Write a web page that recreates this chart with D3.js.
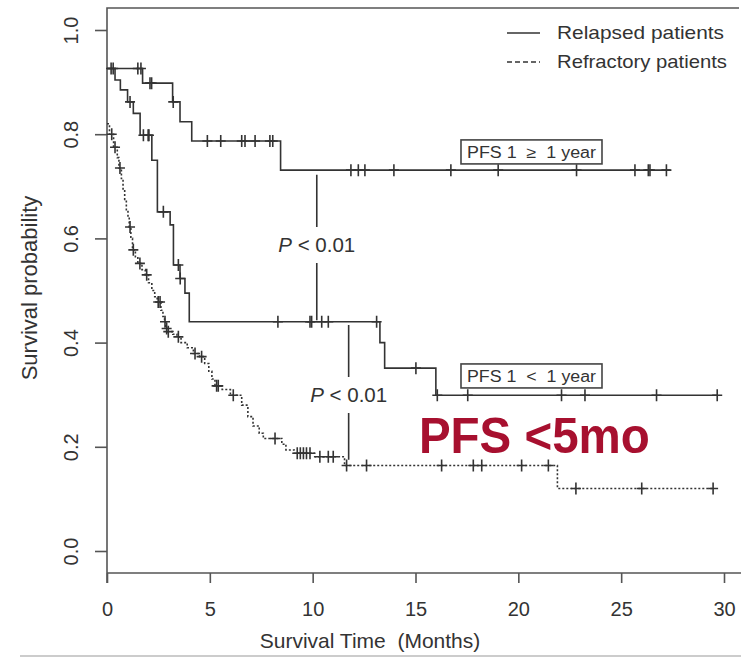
<!DOCTYPE html>
<html>
<head>
<meta charset="utf-8">
<script src="https://cdn.jsdelivr.net/npm/d3@7"></script>
<style>
body { margin: 0; background: #fff; }
text { font-family: "Liberation Sans", Arial, sans-serif; fill: #333; white-space: pre; }
</style>
</head>
<body>
<svg id="chart" width="741" height="658"></svg>
<script>
// ---- data ----
const xTicks = [0, 5, 10, 15, 20, 25, 30];
const yTicks = [0, 0.2, 0.4, 0.6, 0.8, 1.0];
const legendLabels = ["Relapsed patients", "Refractory patients"];

// relapsed patients, PFS1 >= 1 year: [month, survival after the drop]
const relLongSteps = [[0, 0.926], [1.73, 0.898], [3.19, 0.862], [3.55, 0.824], [4.12, 0.787], [8.44, 0.731]];
const relLongEnd = 27.4;
const relLongCensor = [0.2, 0.3, 1.5, 1.65, 2.09, 2.17, 3.22, 4.88, 5.53, 6.55, 6.71, 7.2, 7.92, 8.06,
  11.86, 12.22, 12.54, 13.95, 16.72, 19.02, 22.83, 25.67, 26.32, 26.4, 27.2];

// relapsed patients, PFS1 < 1 year
const relShortSteps = [[0, 0.926], [0.39, 0.904], [0.65, 0.885], [1.0, 0.862], [1.28, 0.84], [1.61, 0.798],
  [2.18, 0.75], [2.45, 0.651], [3.07, 0.626], [3.23, 0.549], [3.55, 0.523], [3.79, 0.495], [4.0, 0.44],
  [13.27, 0.40], [13.5, 0.351], [15.99, 0.299]];
const relShortEnd = 29.67;
const relShortCensor = [1.12, 1.77, 2.0, 2.04, 2.74, 3.47, 3.56, 8.31, 9.87, 9.95, 10.44, 10.76, 13.11,
  15.02, 16.06, 17.54, 22.1, 23.24, 26.72, 29.67];

// refractory patients
const refSteps = [[0, 0.82], [0.12, 0.80], [0.32, 0.775], [0.5, 0.755], [0.58, 0.735], [0.7, 0.715],
  [0.78, 0.695], [0.86, 0.675], [0.94, 0.655], [1.02, 0.64], [1.08, 0.622], [1.16, 0.60], [1.24, 0.578],
  [1.38, 0.565], [1.5, 0.552], [1.7, 0.54], [1.86, 0.53], [2.02, 0.515], [2.18, 0.50], [2.32, 0.488],
  [2.44, 0.478], [2.62, 0.462], [2.72, 0.45], [2.8, 0.44], [2.86, 0.427], [2.94, 0.421], [3.2, 0.416],
  [3.4, 0.411], [3.6, 0.40], [3.9, 0.39], [4.2, 0.379], [4.5, 0.373], [4.75, 0.36], [4.95, 0.345],
  [5.1, 0.33], [5.25, 0.317], [5.6, 0.31], [6.0, 0.299], [6.55, 0.28], [6.85, 0.258], [7.1, 0.24],
  [7.4, 0.226], [7.6, 0.216], [8.5, 0.205], [8.7, 0.194], [9.1, 0.1875], [10.1, 0.181], [11.55, 0.164],
  [21.9, 0.12]];
const refEnd = 29.5;
const refCensor = [0.23, 0.39, 0.63, 1.12, 1.28, 1.6, 1.93, 2.49, 2.58, 2.82, 2.9, 2.98, 3.47, 4.28, 4.6,
  5.33, 5.41, 6.14, 8.17, 9.25, 9.4, 9.55, 9.7, 9.87, 10.35, 10.76, 11.0, 11.65, 12.62, 16.27, 17.81,
  18.22, 20.16, 21.46, 22.8, 26.0, 29.47];

// annotations (months / survival)
const pTimes = [10.2, 11.75];
const pTop = [0.722, 0.434];
const pBottom = [0.443, 0.175];
const pTextLevel = [0.574, 0.286];
const boxLabels = ["PFS 1  \u2265  1 year", "PFS 1  <  1 year"];
const boxTime = 20.64;
const boxLevels = [0.766, 0.336];
const bigLabel = "PFS <5mo";

// ---- chart ----
const svg = d3.select("#chart");
const x = d3.scaleLinear().domain([0, 30]).range([107, 724]);
const y = d3.scaleLinear().domain([0, 1]).range([551, 30]);
const lineCol = "#333";

// plot frame
svg.append("path")
  .attr("d", "M107,583 L107,8 L739,8 M107,573 L741,573")
  .attr("fill", "none").attr("stroke", "#555").attr("stroke-width", 1.6);

// x axis
const xa = svg.append("g")
  .attr("transform", "translate(0,573)")
  .call(d3.axisBottom(x).tickValues(xTicks).tickSize(10).tickPadding(19).tickFormat(d3.format("d")));
xa.select(".domain").remove();
xa.selectAll("line").attr("stroke", "#555").attr("stroke-width", 1.6);
xa.selectAll("text").style("font-size", "20px").style("font-family", "Liberation Sans, Arial, sans-serif").attr("fill", "#333");

// y axis, rotated labels
const ya = svg.append("g")
  .attr("transform", "translate(107,0)")
  .call(d3.axisLeft(y).tickValues(yTicks).tickSize(12).tickFormat(d3.format(".1f")));
ya.select(".domain").remove();
ya.selectAll("line").attr("stroke", "#555").attr("stroke-width", 1.6);
ya.selectAll("text")
  .attr("transform", "rotate(-90)")
  .attr("x", 0).attr("y", -29).attr("dy", 0)
  .attr("text-anchor", "middle")
  .style("font-size", "20px").style("font-family", "Liberation Sans, Arial, sans-serif").attr("fill", "#333");

// axis titles
svg.append("text")
  .attr("x", 370).attr("y", 648).attr("text-anchor", "middle")
  .style("font-size", "21px")
  .text("Survival Time  (Months)");
svg.append("text")
  .attr("transform", "translate(37,288) rotate(-90)").attr("text-anchor", "middle")
  .style("font-size", "22px")
  .text("Survival probability");

// curves
function survAt(steps, t) {
  let s = steps[0][1];
  steps.forEach(function(p) { if (p[0] <= t) s = p[1]; });
  return s;
}
const stepLine = d3.line()
  .x(function(d) { return x(d[0]); })
  .y(function(d) { return y(d[1]); })
  .curve(d3.curveStepAfter);

const curves = [
  {steps: relLongSteps, end: relLongEnd, censor: relLongCensor, dash: null},
  {steps: relShortSteps, end: relShortEnd, censor: relShortCensor, dash: null},
  {steps: refSteps, end: refEnd, censor: refCensor, dash: "2,2"}
];

curves.forEach(function(c) {
  const pts = c.steps.concat([[c.end, c.steps[c.steps.length - 1][1]]]);
  svg.append("path")
    .attr("d", stepLine(pts))
    .attr("fill", "none")
    .attr("stroke", lineCol)
    .attr("stroke-width", 1.6)
    .attr("stroke-dasharray", c.dash);
  svg.append("g").selectAll("path")
    .data(c.censor)
    .enter().append("path")
    .attr("d", function(t) {
      const cx = x(t), cy = y(survAt(c.steps, t));
      return "M" + (cx - 5) + "," + cy + "H" + (cx + 5) + "M" + cx + "," + (cy - 6) + "V" + (cy + 6);
    })
    .attr("stroke", lineCol).attr("stroke-width", 1.6);
});

// p-value connectors
pTimes.forEach(function(t, i) {
  const px = x(t), base = y(pTextLevel[i]);
  svg.append("path")
    .attr("d", "M" + px + "," + y(pTop[i]) + "V" + (base - 25) + "M" + px + "," + (base + 11) + "V" + y(pBottom[i]))
    .attr("stroke", lineCol).attr("stroke-width", 1.6);
  const tx = svg.append("text")
    .attr("x", px).attr("y", base).attr("text-anchor", "middle")
    .style("font-size", "20px")
    .attr("textLength", 77).attr("lengthAdjust", "spacingAndGlyphs");
  tx.append("tspan").style("font-style", "italic").text("P");
  tx.append("tspan").text(" < 0.01");
});

// boxed group labels
boxLabels.forEach(function(lab, i) {
  const cx = x(boxTime), cy = y(boxLevels[i]);
  svg.append("rect")
    .attr("x", cx - 70.5).attr("y", cy - 12).attr("width", 141).attr("height", 24)
    .attr("fill", "#fff").attr("stroke", "#444").attr("stroke-width", 1.6);
  svg.append("text")
    .attr("x", cx).attr("y", cy + 6).attr("text-anchor", "middle")
    .style("font-size", "16px")
    .attr("textLength", 129).attr("lengthAdjust", "spacingAndGlyphs")
    .text(lab);
});

// big red label
svg.append("text")
  .attr("x", x(20.78)).attr("y", y(0.188)).attr("text-anchor", "middle")
  .style("font-size", "50px").style("font-weight", "bold").style("fill", "#a7102f")
  .attr("textLength", 231).attr("lengthAdjust", "spacingAndGlyphs")
  .text(bigLabel);

// legend
const legend = svg.append("g");
legendLabels.forEach(function(lab, i) {
  const ly = 33 + i * 29;
  legend.append("line")
    .attr("x1", 507).attr("x2", 540).attr("y1", ly).attr("y2", ly)
    .attr("stroke", lineCol).attr("stroke-width", 1.6)
    .attr("stroke-dasharray", i === 1 ? "5,3" : null);
  legend.append("text")
    .attr("x", 557).attr("y", ly + 6).style("font-size", "19px")
    .attr("textLength", i === 1 ? 170 : 167).attr("lengthAdjust", "spacingAndGlyphs")
    .text(lab);
});

// bottom rule of the figure
svg.append("line")
  .attr("x1", 20).attr("x2", 741).attr("y1", 656).attr("y2", 656)
  .attr("stroke", "#ccc").attr("stroke-width", 2);
</script>
</body>
</html>
